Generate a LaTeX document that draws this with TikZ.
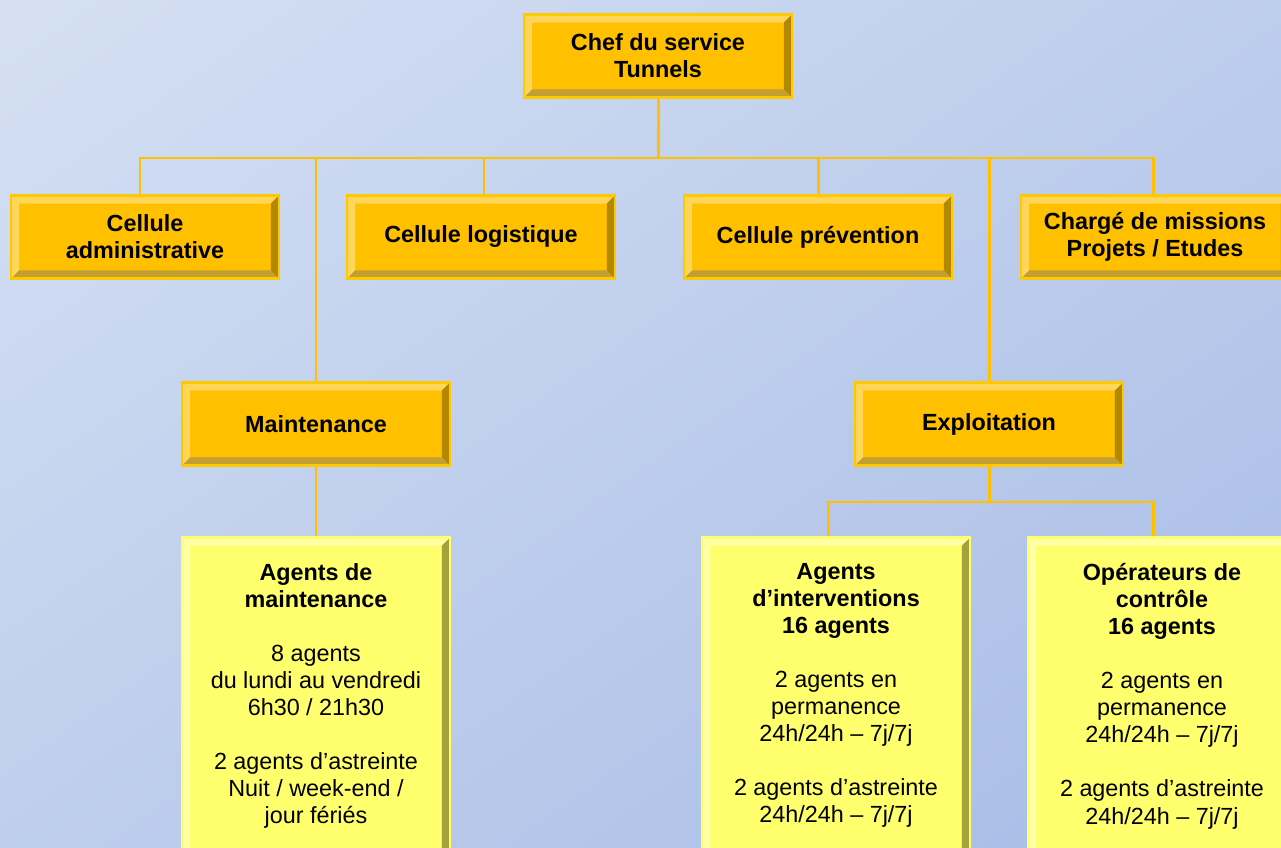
\documentclass[tikz,border=0pt]{standalone}
\usepackage{fontspec}
\setmainfont{Liberation Sans}
\usetikzlibrary{calc}

\definecolor{bgA}{HTML}{D5E0F3}
\definecolor{bgB}{HTML}{A7BBE6}
\definecolor{orfill}{HTML}{FFC000}
\definecolor{orlight}{HTML}{FFD55A}
\definecolor{ordark}{HTML}{B38700}
\definecolor{yefill}{HTML}{FFFF6E}
\definecolor{yelight}{HTML}{FFFFA6}
\definecolor{yedark}{HTML}{A3A33A}

\newcommand{\bv}{0.16cm}
\newcommand{\pbb}{path picture bounding box}
\newcommand{\txtsize}{\fontsize{13.3}{15.4}\selectfont}

\tikzset{
  bevel/.style 2 args={path picture={
      \fill[#1] (\pbb.north west) -- (\pbb.north east)
        -- ([xshift=-\bv,yshift=-\bv]\pbb.north east)
        -- ([xshift=\bv,yshift=-\bv]\pbb.north west) -- cycle;
      \fill[#1] (\pbb.north west) -- (\pbb.south west)
        -- ([xshift=\bv,yshift=\bv]\pbb.south west)
        -- ([xshift=\bv,yshift=-\bv]\pbb.north west) -- cycle;
      \fill[#2] (\pbb.north east) -- (\pbb.south east)
        -- ([xshift=-\bv,yshift=\bv]\pbb.south east)
        -- ([xshift=-\bv,yshift=-\bv]\pbb.north east) -- cycle;
      \fill[#2!80!white] (\pbb.south west) -- (\pbb.south east)
        -- ([xshift=-\bv,yshift=\bv]\pbb.south east)
        -- ([xshift=\bv,yshift=\bv]\pbb.south west) -- cycle;
  }},
  unit/.style={draw=orfill!85!yellow,line width=1.2pt,fill=orfill,
    bevel={orlight}{ordark},minimum width=5.36cm,minimum height=1.66cm,
    inner sep=0pt,align=center,font=\txtsize\bfseries},
  team/.style={draw=yefill,line width=1.2pt,fill=yefill,
    bevel={yelight}{yedark},minimum width=5.36cm,minimum height=6.9cm,
    inner sep=0pt},
  teamtext/.style={anchor=north,align=center,inner sep=0pt,font=\txtsize},
  link/.style={draw=orfill,line width=1.7pt},
}

\begin{document}
\begin{tikzpicture}[x=0.02cm,y=-0.02cm]
  \useasboundingbox (0,0) rectangle (1281,848);
  \clip (0,0) rectangle (1281,848);
  \shade[top color=bgA,bottom color=bgB,shading angle=35]
    (-200,-200) rectangle (1481,1048);

  % top level
  \node[unit] (chef) at (658,56) {Chef du service\\Tunnels};
  \coordinate (bus) at (658,158);

  % cellules
  \node[unit] (admin)  at (145,237)  {Cellule\\administrative};
  \node[unit] (logist) at (481,237)  {Cellule logistique};
  \node[unit] (prev)   at (818,237)  {Cellule prévention};
  \node[unit] (charge) at (1155,237) {Chargé de missions\\Projets / Etudes};

  % services
  \node[unit] (maint)   at (316,424) {Maintenance};
  \node[unit] (exploit) at (989,424) {Exploitation};
  \coordinate (ebus) at (989,502);

  % equipes
  \node[team] (agmaint)  at (316,710)  {};
  \node[team] (aginterv) at (836,710)  {};
  \node[team] (operat)   at (1162,710) {};

  \node[teamtext] (agmaint-t) at (316,563) {%
    \textbf{Agents de}\\\textbf{maintenance}\\[15.4pt]
    8 agents\\du lundi au vendredi\\6h30 / 21h30\\[15.4pt]
    2 agents d’astreinte\\Nuit / week-end /\\jour fériés};
  \node[teamtext] (aginterv-t) at (836,563) {%
    \textbf{Agents}\\\textbf{d’interventions}\\\textbf{16 agents}\\[15.4pt]
    2 agents en\\permanence\\24h/24h – 7j/7j\\[15.4pt]
    2 agents d’astreinte\\24h/24h – 7j/7j};
  \node[teamtext] (operat-t) at (1162,563) {%
    \textbf{Opérateurs de}\\\textbf{contrôle}\\\textbf{16 agents}\\[15.4pt]
    2 agents en\\permanence\\24h/24h – 7j/7j\\[15.4pt]
    2 agents d’astreinte\\24h/24h – 7j/7j};

  % liaisons
  \draw[link] (chef.south) -- (bus);
  \draw[link] ([xshift=-0.1cm]admin.north) |- (bus);
  \draw[link] ([xshift=0.06cm]logist.north) |- (bus);
  \draw[link] (prev.north) |- (bus);
  \draw[link] ([xshift=-0.04cm]charge.north) |- (bus);
  \draw[link] (maint.north) |- (bus);
  \draw[link] (exploit.north) |- (bus);
  \draw[link] (maint.south) -- (agmaint.north);
  \draw[link] (exploit.south) -- (ebus);
  \draw[link] ([xshift=-0.16cm]aginterv.north) |- (ebus);
  \draw[link] ([xshift=-0.18cm]operat.north) |- (ebus);
\end{tikzpicture}
\end{document}
